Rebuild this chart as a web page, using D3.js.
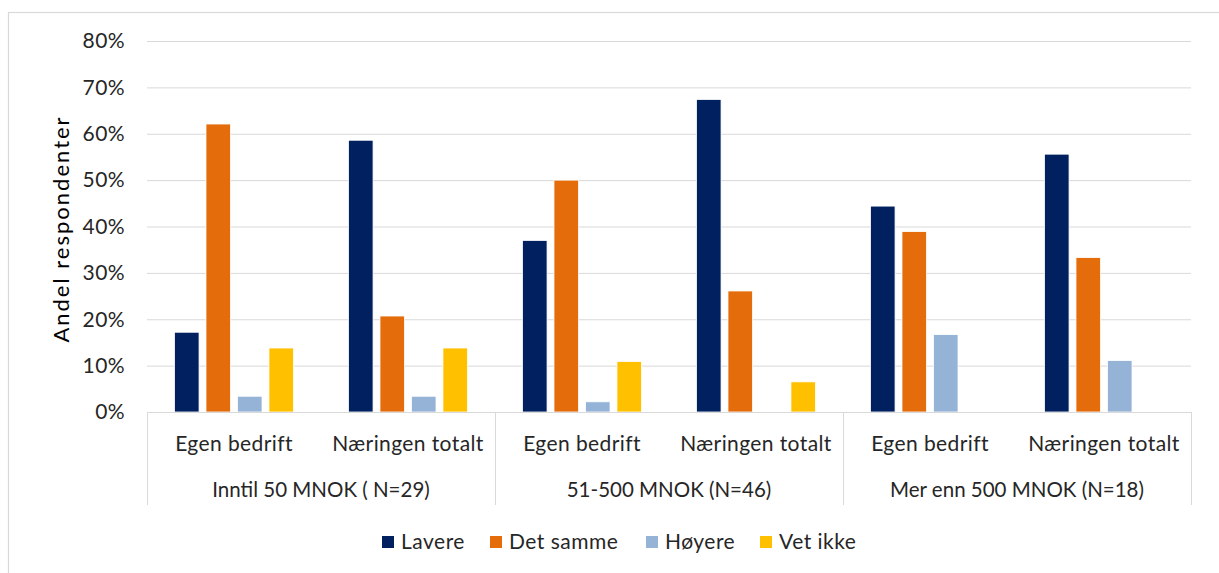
<!DOCTYPE html>
<html>
<head>
<meta charset="utf-8">
<script src="https://cdn.jsdelivr.net/npm/d3@7"></script>
<style>
  body { margin: 0; background: #fff; }
  svg { display: block; font-family: Lato, "Open Sans", sans-serif; }
</style>
</head>
<body>
<svg id="chart"></svg>
<script>
const width = 1219;
const height = 573;

// data (shares, %)
const groups = ['Inntil 50 MNOK ( N=29)', '51-500 MNOK (N=46)', 'Mer enn 500 MNOK (N=18)'];
const subCats = ['Egen bedrift', 'Næringen totalt'];
const series = ['Lavere', 'Det samme', 'Høyere', 'Vet ikke'];
const colors = ['#002060', '#E46C0A', '#95B3D7', '#FFC000'];
const lavere   = [17.2, 58.6, 37.0, 67.4, 44.4, 55.6];
const detSamme = [62.1, 20.7, 50.0, 26.1, 38.9, 33.3];
const hoyere   = [3.4, 3.4, 2.2, 0, 16.7, 11.1];
const vetIkke  = [13.8, 13.8, 10.9, 6.5, 0, 0];
const yTicks = [0, 10, 20, 30, 40, 50, 60, 70, 80];

const values = [lavere, detSamme, hoyere, vetIkke];
const cats = [];
groups.forEach((g, gi) => subCats.forEach(s => cats.push({ key: gi + '|' + s, group: gi, label: s })));

const margin = { left: 147, right: 28, top: 41, bottom: 161 };
const plotW = width - margin.left - margin.right;
const plotH = height - margin.top - margin.bottom;

const svg = d3.select('#chart').attr('width', width).attr('height', height);

// chart border
svg.append('rect')
   .attr('x', 8.5).attr('y', 12.5)
   .attr('width', width + 10).attr('height', height + 10)
   .attr('fill', 'none')
   .attr('stroke', '#D9D9D9')
   .attr('stroke-width', 1.2);

const g = svg.append('g').attr('transform', `translate(${margin.left},${margin.top})`);

const x0 = d3.scaleBand().domain(cats.map(d => d.key)).range([0, plotW]);
const x1 = d3.scaleBand().domain(series).range([0, x0.bandwidth()])
             .paddingInner(0.22).paddingOuter(0.873);
const y = d3.scaleLinear().domain([0, 80]).range([plotH, 0]);

// gridlines
g.selectAll('line.grid')
 .data(yTicks.filter(t => t > 0))
 .enter().append('line')
 .attr('class', 'grid')
 .attr('x1', 0).attr('x2', plotW)
 .attr('y1', d => y(d) + 0.5).attr('y2', d => y(d) + 0.5)
 .attr('stroke', '#D9D9D9').attr('stroke-width', 1);

// y tick labels
g.selectAll('text.ytick')
 .data(yTicks)
 .enter().append('text')
 .attr('class', 'ytick')
 .attr('x', -22).attr('y', d => y(d))
 .attr('dy', '0.35em')
 .attr('text-anchor', 'end')
 .attr('font-size', 21)
 .attr('letter-spacing', 0.4)
 .attr('fill', '#262626')
 .text(d => d + '%');

// y title
svg.append('text')
   .attr('transform', 'translate(69,229) rotate(-90)')
   .attr('text-anchor', 'middle')
   .attr('font-size', 22)
   .attr('letter-spacing', 2)
   .attr('fill', '#000')
   .text('Andel respondenter');

// bars
const catG = g.selectAll('g.cat')
  .data(cats)
  .enter().append('g')
  .attr('class', 'cat')
  .attr('transform', d => `translate(${x0(d.key)},0)`);

catG.selectAll('rect')
  .data((d, ci) => series.map((s, si) => ({ s, si, v: values[si][ci] })))
  .enter().append('rect')
  .filter(d => d.v > 0)
  .attr('x', d => x1(d.s))
  .attr('width', x1.bandwidth())
  .attr('y', d => y(d.v))
  .attr('height', d => plotH - y(d.v))
  .attr('fill', d => colors[d.si])
  .attr('stroke', '#fff')
  .attr('stroke-width', 0.8);

// x axis line
g.append('line')
 .attr('x1', 0).attr('x2', plotW)
 .attr('y1', plotH + 0.5).attr('y2', plotH + 0.5)
 .attr('stroke', '#D9D9D9');

// group separators
const sepX = [0, 2, 4, 6].map(i => i < 6 ? x0(cats[i].key) : plotW);
g.selectAll('line.sep')
 .data(sepX)
 .enter().append('line')
 .attr('class', 'sep')
 .attr('x1', d => Math.round(d) + 0.5).attr('x2', d => Math.round(d) + 0.5)
 .attr('y1', plotH).attr('y2', plotH + 93)
 .attr('stroke', '#D9D9D9');

// sub-category labels
g.selectAll('text.sub')
 .data(cats)
 .enter().append('text')
 .attr('class', 'sub')
 .attr('x', d => x0(d.key) + x0.bandwidth() / 2)
 .attr('y', plotH + 39)
 .attr('text-anchor', 'middle')
 .attr('font-size', 21)
 .attr('letter-spacing', 0.4)
 .attr('fill', '#262626')
 .text(d => d.label);

// group labels
g.selectAll('text.grp')
 .data(groups)
 .enter().append('text')
 .attr('class', 'grp')
 .attr('x', (d, i) => (sepX[i] + sepX[i + 1]) / 2)
 .attr('y', plotH + 85)
 .attr('text-anchor', 'middle')
 .attr('font-size', 20.5)
 .attr('fill', '#262626')
 .text(d => d);

// legend
const legendX = [382, 490, 646, 760];
const legend = svg.selectAll('g.legend')
  .data(series)
  .enter().append('g')
  .attr('class', 'legend')
  .attr('transform', (d, i) => `translate(${legendX[i]},536)`);

legend.append('rect')
  .attr('width', 12).attr('height', 12)
  .attr('fill', (d, i) => colors[i]);

legend.append('text')
  .attr('x', 19).attr('y', 6)
  .attr('dy', '0.35em')
  .attr('font-size', 21)
  .attr('letter-spacing', 0.5)
  .attr('fill', '#262626')
  .text(d => d);
</script>
</body>
</html>
